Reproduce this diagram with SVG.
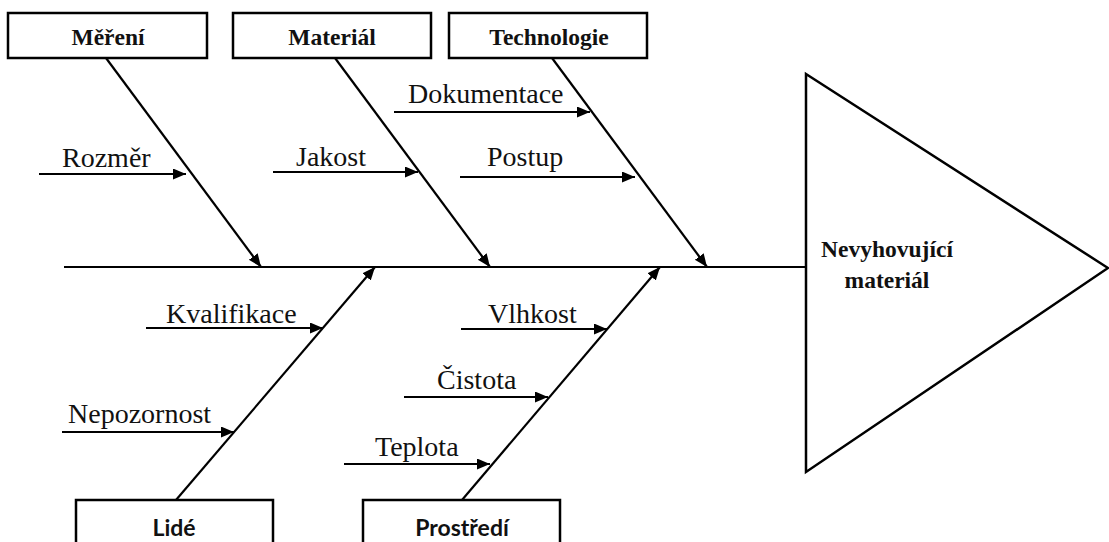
<svg xmlns="http://www.w3.org/2000/svg" width="1109" height="542" viewBox="0 0 1109 542">
<style>
.bg{fill:#fff}
.box{fill:#fff;stroke:#000;stroke-width:2.5}
.ln{stroke:#000;stroke-width:2.2;fill:none}
.arr{stroke:#000;stroke-width:2.2;fill:none;marker-end:url(#ah)}
.lbl{font-family:'Liberation Serif','DejaVu Serif',serif;font-size:28px;fill:#111}
.hb{font-family:'Liberation Serif','DejaVu Serif',serif;font-size:23.5px;font-weight:bold;fill:#111;text-anchor:middle}
.hs{font-family:Lato,'Liberation Sans',sans-serif;font-size:23px;font-weight:bold;fill:#111;text-anchor:middle}
</style>
<defs>
<marker id="ah" markerUnits="userSpaceOnUse" markerWidth="14" markerHeight="12" refX="13" refY="5.5" orient="auto">
<path d="M0,0 L13,5.5 L0,11 z" fill="#000"/>
</marker>
</defs>
<rect class="bg" x="0" y="0" width="1109" height="542"/>
<g id="connectors">
<line class="ln" x1="64" y1="267" x2="806" y2="267"/>
<line class="arr" x1="106" y1="58" x2="261" y2="267"/>
<line class="arr" x1="335" y1="58" x2="490" y2="267"/>
<line class="arr" x1="552" y1="58" x2="707" y2="267"/>
<line class="arr" x1="176" y1="500" x2="375" y2="267"/>
<line class="arr" x1="462" y1="500" x2="660" y2="267"/>
<line class="arr" x1="39" y1="174" x2="186" y2="174"/>
<line class="arr" x1="273" y1="172" x2="418" y2="172"/>
<line class="arr" x1="394" y1="112" x2="590" y2="112"/>
<line class="arr" x1="460" y1="177" x2="635" y2="177"/>
<line class="arr" x1="146" y1="328" x2="323" y2="328"/>
<line class="arr" x1="62" y1="432" x2="234" y2="432"/>
<line class="arr" x1="461" y1="329" x2="607" y2="329"/>
<line class="arr" x1="404" y1="397" x2="548" y2="397"/>
<line class="arr" x1="344" y1="464" x2="490" y2="464"/>
</g>
<g id="causes-labels">
<text class="lbl" x="62" y="167" font-family="Liberation Serif">Rozměr</text>
<text class="lbl" x="296" y="166" font-family="Liberation Serif">Jakost</text>
<text class="lbl" x="408" y="103" font-family="Liberation Serif">Dokumentace</text>
<text class="lbl" x="487" y="166" font-family="Liberation Serif">Postup</text>
<text class="lbl" x="166" y="323" font-family="Liberation Serif">Kvalifikace</text>
<text class="lbl" x="68" y="423" font-family="Liberation Serif">Nepozornost</text>
<text class="lbl" x="488" y="323" font-family="Liberation Serif">Vlhkost</text>
<text class="lbl" x="437" y="389" font-family="Liberation Serif">Čistota</text>
<text class="lbl" x="375" y="456" font-family="Liberation Serif">Teplota</text>
</g>
<g id="node-mereni">
<rect class="box" x="8" y="13" width="199" height="45"/>
<text class="hb" x="108" y="45">Měření</text>
</g>
<g id="node-material">
<rect class="box" x="233" y="13" width="198" height="45"/>
<text class="hb" x="332" y="45">Materiál</text>
</g>
<g id="node-technologie">
<rect class="box" x="449" y="13" width="198" height="45"/>
<text class="hb" x="549" y="45">Technologie</text>
</g>
<g id="node-lide">
<rect class="box" x="76" y="500" width="197" height="60"/>
<text class="hs" x="174" y="536">Lidé</text>
</g>
<g id="node-prostredi">
<rect class="box" x="363" y="500" width="197" height="60"/>
<text class="hs" x="462" y="536">Prostředí</text>
</g>
<g id="node-effect">
<polygon class="box" points="806,74 1108,268 806,472"/>
<text class="hb" x="887" y="257">Nevyhovující</text>
<text class="hb" x="887" y="288">materiál</text>
</g>
</svg>
